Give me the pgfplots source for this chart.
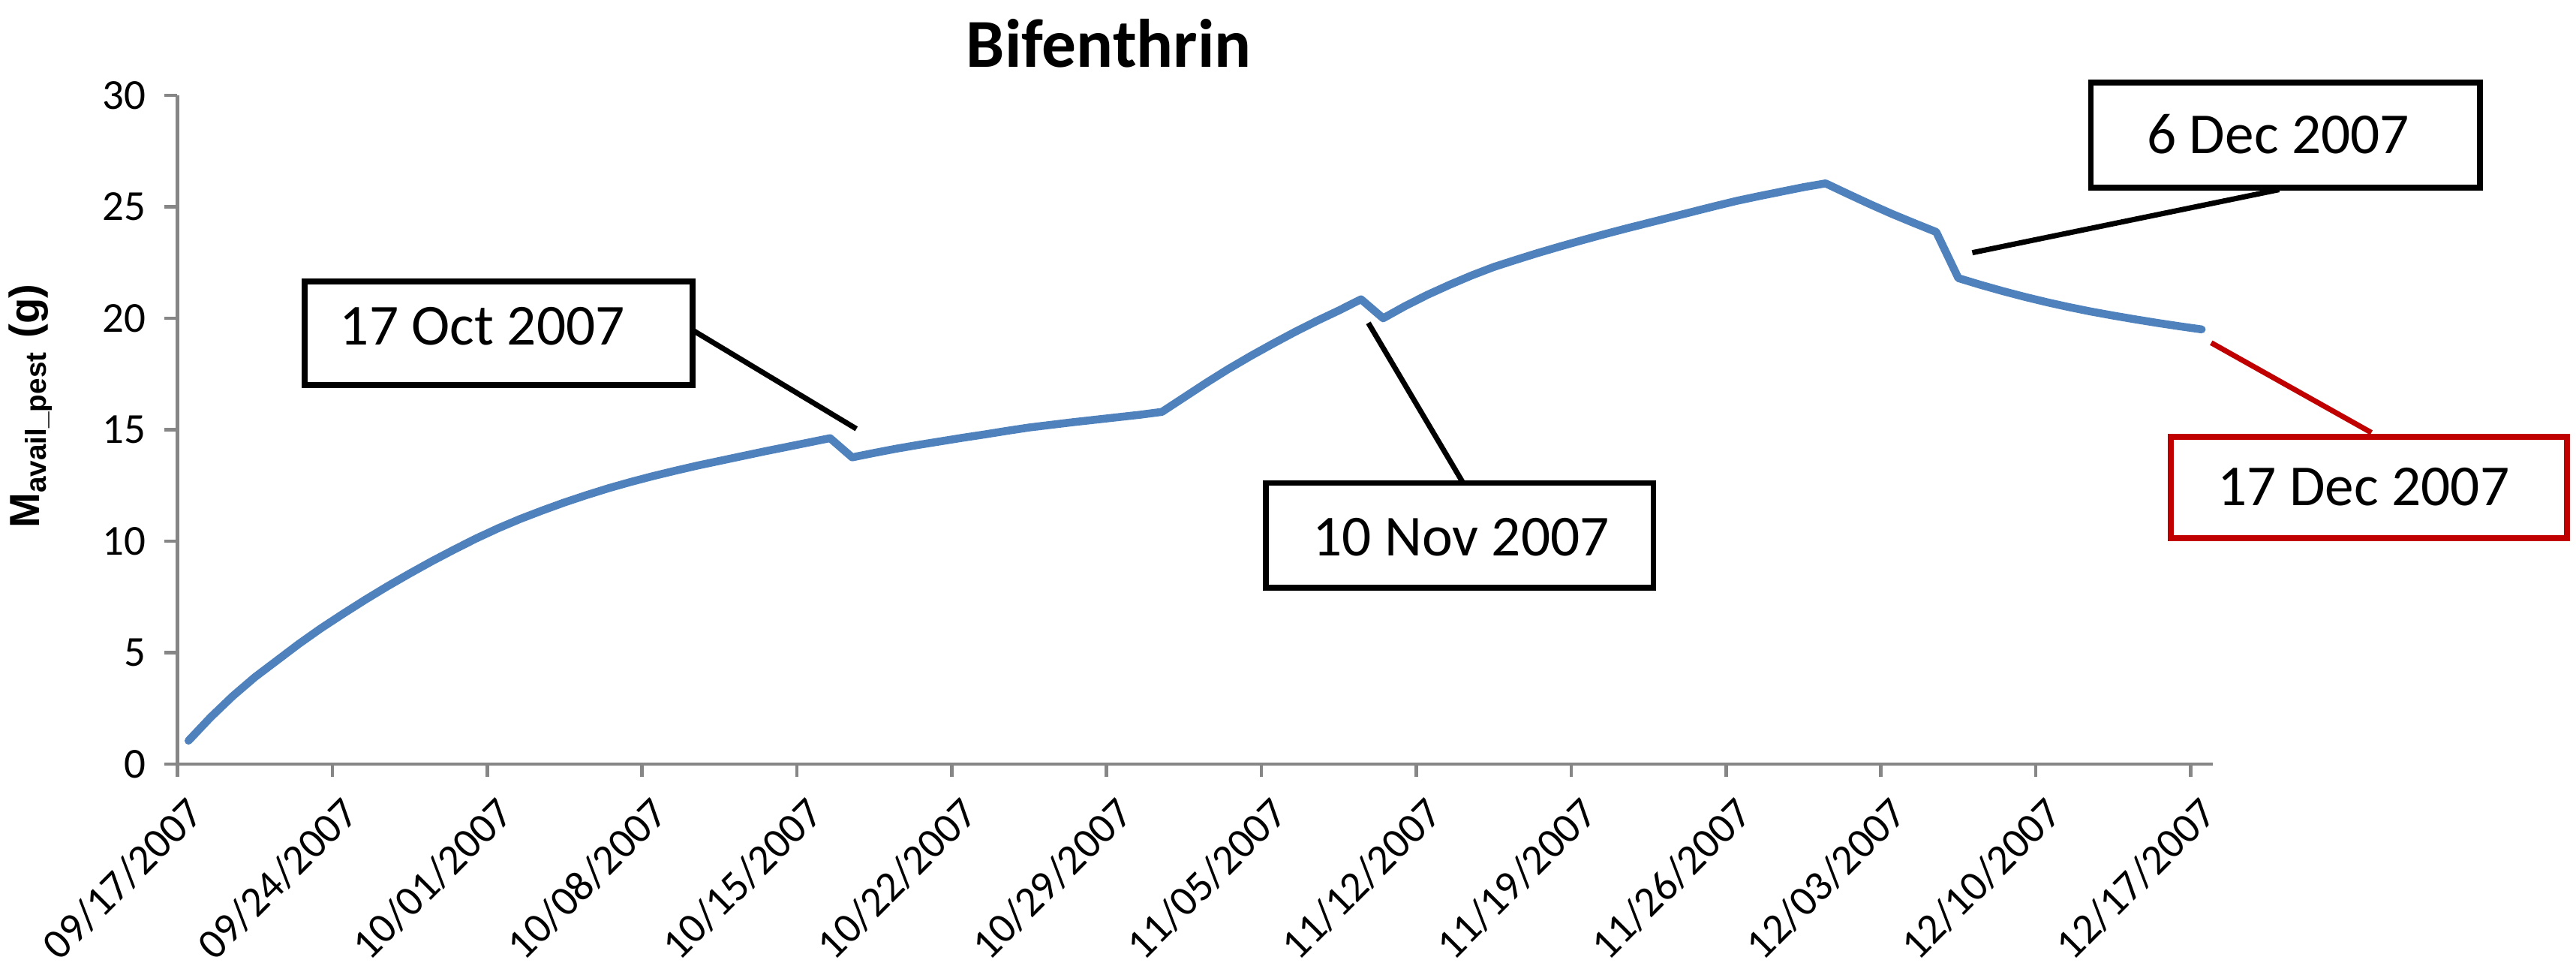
\documentclass[border=0pt]{standalone}
\usepackage{fontspec}
\setmainfont{Carlito}
\newfontfamily\arialfont{Liberation Sans}
\usepackage{pgfplots}
\pgfplotsset{compat=1.18}
\usepackage{pgfplotstable}
\definecolor{linblue}{HTML}{4F81BD}
\definecolor{axgray}{HTML}{868686}
\definecolor{boxred}{HTML}{C00000}

% daily values, plotted at mid-day (days since 09/17/2007)
\pgfplotstableread{
x y
0.5 1.05
1.5 2.10
2.5 3.05
3.5 3.90
4.5 4.65
5.5 5.40
6.5 6.10
7.5 6.75
8.5 7.38
9.5 7.98
10.5 8.55
11.5 9.10
12.5 9.62
13.5 10.12
14.5 10.58
15.5 11.00
16.5 11.38
17.5 11.74
18.5 12.07
19.5 12.38
20.5 12.66
21.5 12.92
22.5 13.16
23.5 13.39
24.5 13.60
25.5 13.81
26.5 14.02
27.5 14.22
28.5 14.42
29.5 14.62
30.5 13.76
31.5 13.96
32.5 14.15
33.5 14.32
34.5 14.48
35.5 14.64
36.5 14.79
37.5 14.95
38.5 15.10
39.5 15.22
40.5 15.34
41.5 15.45
42.5 15.56
43.5 15.67
44.5 15.80
45.5 16.45
46.5 17.10
47.5 17.72
48.5 18.30
49.5 18.85
50.5 19.38
51.5 19.88
52.5 20.35
53.5 20.85
54.5 20.00
55.5 20.55
56.5 21.05
57.5 21.50
58.5 21.92
59.5 22.30
60.5 22.62
61.5 22.93
62.5 23.22
63.5 23.50
64.5 23.77
65.5 24.03
66.5 24.28
67.5 24.53
68.5 24.78
69.5 25.03
70.5 25.27
71.5 25.48
72.5 25.68
73.5 25.88
74.5 26.05
75.5 25.58
76.5 25.12
77.5 24.68
78.5 24.27
79.5 23.87
80.5 21.80
81.5 21.50
82.5 21.22
83.5 20.96
84.5 20.72
85.5 20.50
86.5 20.30
87.5 20.12
88.5 19.95
89.5 19.79
90.5 19.64
91.5 19.50
}\bifdata

\newcommand\callfont{\fontsize{11}{13}\selectfont}

\begin{document}
\begin{tikzpicture}
\useasboundingbox (-1.1825,-1.345) rectangle (15.9825,5.09);
\begin{axis}[
  scale only axis,
  width=13.5625cm, height=4.455cm,
  xmin=0, xmax=92, ymin=0, ymax=30,
  axis lines=left,
  axis line style={draw=axgray, line width=0.65pt, -},
  xtick={0,7,...,91},
  xticklabels={09/17/2007,09/24/2007,10/01/2007,10/08/2007,10/15/2007,10/22/2007,10/29/2007,11/05/2007,11/12/2007,11/19/2007,11/26/2007,12/03/2007,12/10/2007,12/17/2007},
  ytick={0,5,...,30},
  tick align=outside,
  major tick length=0.085cm,
  tick style={draw=axgray, line width=0.65pt},
  ticklabel style={font=\fontsize{8.1}{9}\selectfont},
  xticklabel style={rotate=45, anchor=base east, inner sep=0pt, xshift=-0.043cm, yshift=-0.316cm},
  /pgf/number format/assume math mode=true,
  clip=false,
]
\addplot[linblue, line width=1.5pt, line join=round, line cap=round] table {\bifdata};

% title and y label
\node[anchor=base, font=\bfseries\fontsize{13}{15}\selectfont] at (axis cs:42.1,31.25) {Bifenthrin};
\node[rotate=90, anchor=base, inner sep=0, font=\arialfont\bfseries\fontsize{8}{9}\selectfont]
  at ([xshift=-0.9175cm]axis cs:0,16.06) {M\textsubscript{\fontsize{5.5}{6}\selectfont avail\_pest} (g)};

% callouts
\draw[black, line width=1.1pt, fill=white] (axis cs:5.74,17.0) rectangle (axis cs:23.28,21.65);
\node[anchor=base west, inner sep=0, font=\callfont] at (axis cs:7.29,18.82) {17 Oct 2007};
\draw[black, line width=1pt] (axis cs:23.28,19.47) -- (axis cs:30.69,15.04);

\draw[black, line width=1.1pt, fill=white] (axis cs:49.2,7.91) rectangle (axis cs:66.72,12.61);
\node[anchor=base west, inner sep=0, font=\callfont] at (axis cs:51.26,9.36) {10 Nov 2007};
\draw[black, line width=1pt] (axis cs:53.83,19.79) -- (axis cs:58.08,12.67);

\draw[black, line width=1.1pt, fill=white] (axis cs:86.49,25.86) rectangle (axis cs:104.08,30.58);
\node[anchor=base west, inner sep=0, font=\callfont] at (axis cs:88.98,27.4) {6 Dec 2007};
\draw[black, line width=1pt] (axis cs:81.13,22.94) -- (axis cs:95.0,25.77);

\draw[boxred, line width=1.1pt, fill=white] (axis cs:90.1,10.14) rectangle (axis cs:108.0,14.69);
\node[anchor=base west, inner sep=0, font=\callfont] at (axis cs:92.17,11.6) {17 Dec 2007};
\draw[boxred, line width=1pt] (axis cs:91.93,18.9) -- (axis cs:99.17,14.87);
\end{axis}
\end{tikzpicture}
\end{document}
